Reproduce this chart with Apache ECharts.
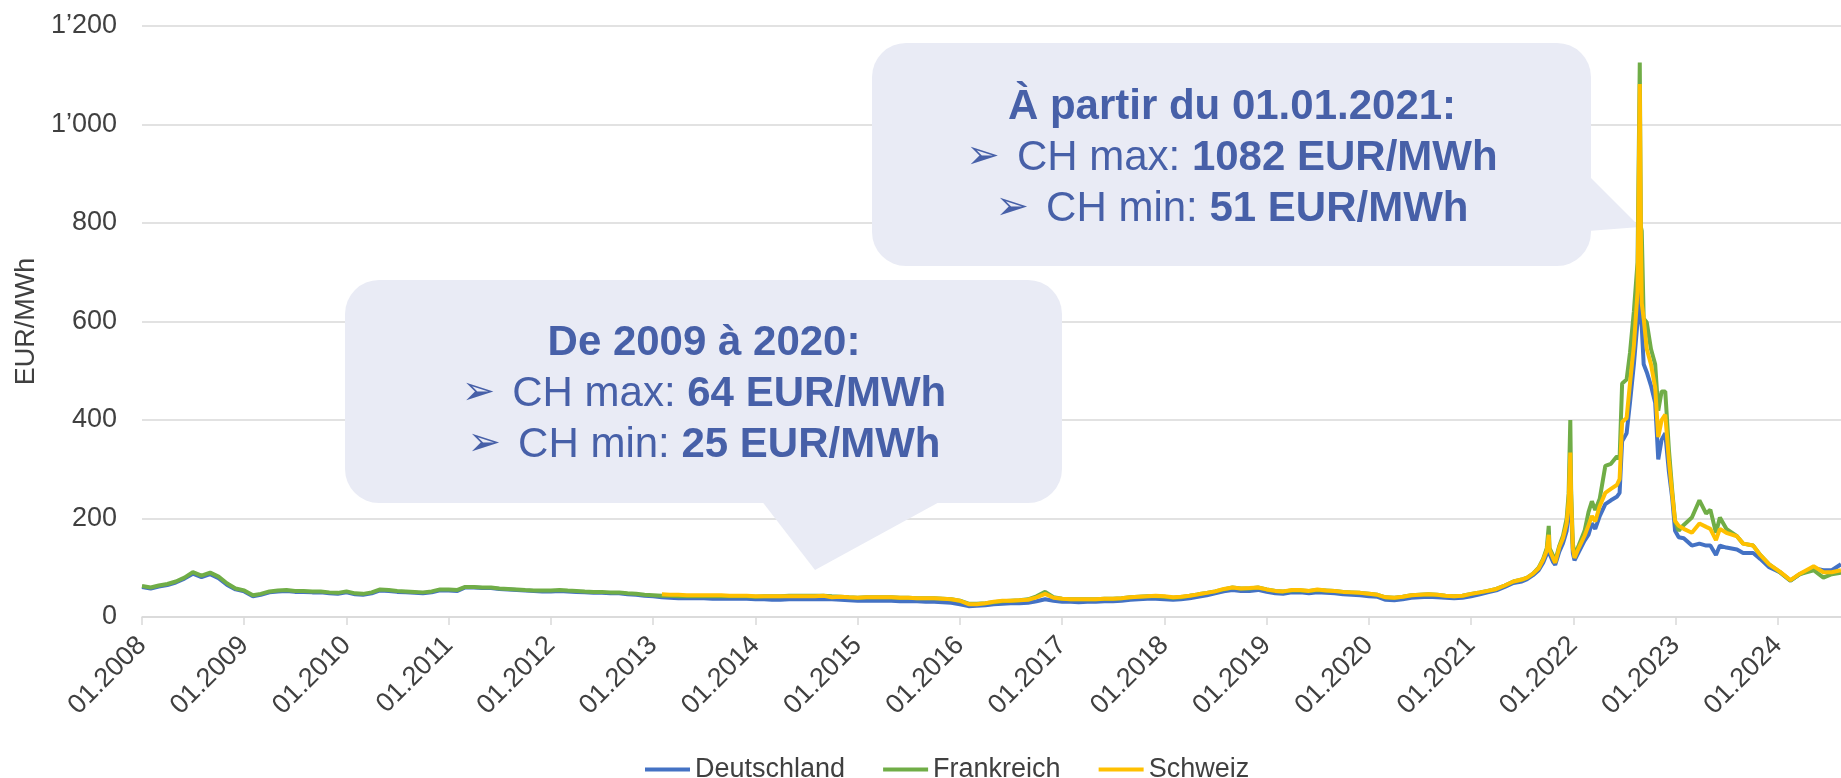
<!DOCTYPE html>
<html>
<head>
<meta charset="utf-8">
<title>Prix de l'électricité</title>
<script src="https://cdn.jsdelivr.net/npm/echarts@6.0.0/dist/echarts.min.js"></script>
<style>
  html, body { margin: 0; padding: 0; background: #fff; }
  #chart { width: 1841px; height: 778px; }
</style>
</head>
<body>
<div id="chart"></div>
<script>
// monthly until mid 2021, then denser around the 2021-2023 spikes
const dates = [
  '2008-01','2008-02','2008-03','2008-04','2008-05','2008-06','2008-07','2008-08','2008-09','2008-10','2008-11','2008-12',
  '2009-01','2009-02','2009-03','2009-04','2009-05','2009-06','2009-07','2009-08','2009-09','2009-10','2009-11','2009-12',
  '2010-01','2010-02','2010-03','2010-04','2010-05','2010-06','2010-07','2010-08','2010-09','2010-10','2010-11','2010-12',
  '2011-01','2011-02','2011-03','2011-04','2011-05','2011-06','2011-07','2011-08','2011-09','2011-10','2011-11','2011-12',
  '2012-01','2012-02','2012-03','2012-04','2012-05','2012-06','2012-07','2012-08','2012-09','2012-10','2012-11','2012-12',
  '2013-01','2013-02','2013-03','2013-04','2013-05','2013-06','2013-07','2013-08','2013-09','2013-10','2013-11','2013-12',
  '2014-01','2014-02','2014-03','2014-04','2014-05','2014-06','2014-07','2014-08','2014-09','2014-10','2014-11','2014-12',
  '2015-01','2015-02','2015-03','2015-04','2015-05','2015-06','2015-07','2015-08','2015-09','2015-10','2015-11','2015-12',
  '2016-01','2016-02','2016-03','2016-04','2016-05','2016-06','2016-07','2016-08','2016-09','2016-10','2016-11','2016-12',
  '2017-01','2017-02','2017-03','2017-04','2017-05','2017-06','2017-07','2017-08','2017-09','2017-10','2017-11','2017-12',
  '2018-01','2018-02','2018-03','2018-04','2018-05','2018-06','2018-07','2018-08','2018-09','2018-10','2018-11','2018-12',
  '2019-01','2019-02','2019-03','2019-04','2019-05','2019-06','2019-07','2019-08','2019-09','2019-10','2019-11','2019-12',
  '2020-01','2020-02','2020-03','2020-04','2020-05','2020-06','2020-07','2020-08','2020-09','2020-10','2020-11','2020-12',
  '2021-01','2021-02','2021-03','2021-04','2021-05','2021-06',
  '2021-07-01','2021-07-20','2021-08-10','2021-08-30','2021-09-15','2021-09-28','2021-10-05','2021-10-08','2021-10-20','2021-10-28',
  '2021-11-12','2021-11-25','2021-12-08','2021-12-15','2021-12-21','2021-12-24','2021-12-30',
  '2022-01-05','2022-01-20','2022-02-10','2022-02-24','2022-03-08','2022-03-20','2022-04-05','2022-04-25','2022-05-15','2022-06-05',
  '2022-06-15','2022-06-24','2022-07-10','2022-07-22','2022-08-05','2022-08-18','2022-08-26','2022-08-30','2022-09-02','2022-09-09',
  '2022-09-20','2022-10-05','2022-10-20','2022-10-31','2022-11-12','2022-11-25','2022-12-08','2022-12-20','2022-12-30',
  '2023-01-12','2023-01-30','2023-02-28','2023-03-27','2023-04-20','2023-05-05','2023-05-25','2023-06-08','2023-07-01','2023-08-08',
  '2023-08-30','2023-10-05','2023-10-30','2023-12-01',
  '2024-01-08','2024-02-15','2024-03-20','2024-05-08','2024-06-12','2024-07-12','2024-08-14'
];

const deutschland = [
  61,58,62,65,70,78,88,81,87,79,65,56,
  52,42,45,50,52,53,51,51,50,50,48,47,
  50,46,45,48,54,53,51,50,49,48,50,54,
  54,53,60,60,59,59,57,56,55,54,53,52,
  52,53,52,51,50,49,49,48,48,46,45,43,
  42,40,39,38,38,38,38,37,37,37,37,37,
  36,36,35,35,36,36,36,36,36,36,35,34,
  33,33,33,33,33,32,32,32,31,31,30,29,
  26,22,23,24,26,27,28,28,29,32,36,33,
  31,31,30,31,31,32,32,33,35,36,37,37,
  36,35,36,38,41,44,48,52,55,53,53,55,
  51,48,47,50,50,48,50,49,48,46,45,44,
  42,41,35,34,36,39,40,41,40,39,38,39,
  42,46,50,54,61,69,
  72,77,85,95,110,128,150,128,112,106,
  133,150,175,215,290,215,130,
  115,132,155,167,190,179,205,229,237,244,
  252,357,373,435,513,600,985,606,590,513,
  497,470,435,320,360,373,295,240,175,
  162,160,145,149,145,145,126,145,141,137,
  130,130,118,101,
  91,74,87,99,95,95,107
];

const frankreich = [
  63,60,64,67,72,80,91,84,90,82,68,58,
  54,44,47,52,54,55,53,53,52,52,50,49,
  52,48,47,50,56,55,53,52,51,50,52,56,
  56,55,61,61,60,60,58,57,56,55,54,54,
  54,55,54,53,52,51,51,50,50,48,47,45,
  44,43,43,42,42,42,42,42,42,42,42,42,
  41,42,42,42,43,43,43,43,43,42,41,40,
  39,40,40,40,40,39,39,38,38,38,37,36,
  33,27,27,28,30,32,33,34,36,42,51,40,
  37,36,36,36,36,37,37,38,40,41,42,42,
  41,39,40,43,46,49,52,56,60,58,58,60,
  56,53,52,54,54,53,55,54,53,51,50,49,
  47,45,40,39,41,44,45,46,45,43,42,43,
  47,50,53,57,64,72,
  76,80,88,100,118,140,185,140,125,114,
  145,165,200,250,400,260,150,
  125,145,175,213,235,217,240,307,311,326,
  322,474,482,536,621,720,1126,792,784,606,
  598,544,513,419,458,458,340,256,195,
  175,187,202,237,210,218,171,202,179,164,
  149,145,126,107,
  91,74,87,95,80,87,90
];

const schweiz = [
  null,null,null,null,null,null,null,null,null,null,null,null,
  null,null,null,null,null,null,null,null,null,null,null,null,
  null,null,null,null,null,null,null,null,null,null,null,null,
  null,null,null,null,null,null,null,null,null,null,null,null,
  null,null,null,null,null,null,null,null,null,null,null,null,
  null,46,45,45,44,44,44,44,44,43,43,43,
  42,42,42,42,42,42,42,42,43,40,41,40,
  39,40,40,40,40,39,39,38,38,38,37,36,
  33,26,26,28,31,33,33,34,35,40,47,39,
  37,36,36,36,36,37,37,38,40,41,42,43,
  42,40,41,43,46,49,52,57,60,58,59,60,
  56,53,52,55,55,53,56,54,53,51,50,49,
  47,45,40,39,41,44,45,46,45,43,42,43,
  47,50,53,57,64,72,
  76,80,88,99,116,135,167,136,120,110,
  142,160,190,235,334,240,140,
  120,140,165,186,205,194,225,252,260,268,
  280,396,404,474,551,660,1082,777,637,606,
  544,513,466,365,400,411,318,248,195,
  185,179,171,190,183,179,156,179,171,164,
  149,145,126,107,
  92,75,88,103,91,91,95
];

const yTicks = [0, 200, 400, 600, 800, 1000, 1200];
const seriesNames = ['Deutschland', 'Frankreich', 'Schweiz'];
const seriesColors = ['#4472C4', '#70AD47', '#FFC000'];

const callouts = [
  { title: 'De 2009 à 2020:', max: '64 EUR/MWh', min: '25 EUR/MWh' },
  { title: 'À partir du 01.01.2021:', max: '1082 EUR/MWh', min: '51 EUR/MWh' }
];

// date string -> fractional year
function toYear(s) {
  const p = s.split('-').map(Number);
  const start = Date.UTC(p[0], 0, 1);
  const end = Date.UTC(p[0] + 1, 0, 1);
  const t = Date.UTC(p[0], p[1] - 1, p[2] || 1);
  return p[0] + (t - start) / (end - start);
}

function pairs(values) {
  const out = [];
  values.forEach((v, i) => {
    if (v !== null) out.push([toYear(dates[i]), v]);
  });
  return out;
}

function fmtThousands(v) {
  if (v >= 1000) return Math.floor(v / 1000) + '\u2019' + String(v % 1000).padStart(3, '0');
  return String(v);
}

const FONT = "'Liberation Sans', Arial, sans-serif";
const TEXT_COLOR = '#404040';
const GRID_COLOR = '#d9d9d9';
const BUBBLE = '#E9EBF5';
const BUBBLE_TEXT = '#4760A8';

const chart = echarts.init(document.getElementById('chart'), null, { renderer: 'canvas' });

function calloutText(c) {
  return '{h|' + c.title + '}\n{a|\u27A2}{r|CH max: }{b|' + c.max + '}\n{a|\u27A2}{r|CH min: }{b|' + c.min + '}';
}

const rich = {
  h: { fontSize: 42, fontWeight: 'bold', fontFamily: FONT, fill: BUBBLE_TEXT, lineHeight: 51 },
  a: { fontSize: 40, fontFamily: "'DejaVu Sans', sans-serif", fill: BUBBLE_TEXT, lineHeight: 51, padding: [0, 17, 0, 0] },
  r: { fontSize: 42, fontFamily: FONT, fill: BUBBLE_TEXT, lineHeight: 51 },
  b: { fontSize: 42, fontWeight: 'bold', fontFamily: FONT, fill: BUBBLE_TEXT, lineHeight: 51 }
};

const options = {
  animation: false,
  backgroundColor: '#fff',
  grid: { left: 142, right: 0, top: 26, bottom: 161, containLabel: false, outerBoundsMode: 'none' },
  legend: {
    data: seriesNames,
    left: 640,
    top: 751,
    icon: 'rect',
    itemWidth: 45,
    itemHeight: 4,
    itemGap: 38,
    textStyle: { fontSize: 27, color: TEXT_COLOR, fontFamily: FONT }
  },
  xAxis: {
    type: 'value',
    min: 2008,
    max: toYear(dates[dates.length - 1]),
    interval: 1,
    axisLine: { show: true, lineStyle: { color: GRID_COLOR, width: 1.5 } },
    axisTick: { show: true, length: 8, lineStyle: { color: GRID_COLOR, width: 1.5 } },
    axisLabel: {
      rotate: 45,
      margin: 24,
      fontSize: 27,
      color: TEXT_COLOR,
      fontFamily: FONT,
      showMaxLabel: false,
      formatter: (v) => (Number.isInteger(v) ? '01.' + v : '')
    },
    splitLine: { show: false }
  },
  yAxis: {
    type: 'value',
    min: yTicks[0],
    max: yTicks[yTicks.length - 1],
    interval: 200,
    name: 'EUR/MWh',
    nameLocation: 'middle',
    nameRotate: 90,
    nameGap: 100,
    nameTextStyle: { fontSize: 27, color: TEXT_COLOR, fontFamily: FONT },
    axisLine: { show: false },
    axisTick: { show: false },
    axisLabel: { fontSize: 27, color: TEXT_COLOR, fontFamily: FONT, margin: 25, formatter: fmtThousands },
    splitLine: { lineStyle: { color: GRID_COLOR, width: 1.5 } }
  },
  series: [deutschland, frankreich, schweiz].map((vals, i) => ({
    name: seriesNames[i],
    type: 'line',
    data: pairs(vals),
    symbol: 'none',
    showSymbol: false,
    connectNulls: false,
    lineStyle: { width: 4, color: seriesColors[i] },
    itemStyle: { color: seriesColors[i] },
    z: 3
  })),
  graphic: [
    // lower callout
    { type: 'rect', z: 1, silent: true, shape: { x: 345, y: 280, width: 717, height: 223, r: 34 }, style: { fill: BUBBLE } },
    { type: 'polygon', z: 1, silent: true, shape: { points: [[761, 500], [815, 570], [943, 500]] }, style: { fill: BUBBLE } },
    { type: 'text', z: 2, silent: true, x: 704, y: 394,
      style: { text: calloutText(callouts[0]), rich: rich, align: 'center', verticalAlign: 'middle', fontSize: 42, fontFamily: FONT, fill: BUBBLE_TEXT, lineHeight: 51 } },
    // upper callout
    { type: 'rect', z: 1, silent: true, shape: { x: 872, y: 43, width: 719, height: 223, r: 34 }, style: { fill: BUBBLE } },
    { type: 'polygon', z: 1, silent: true, shape: { points: [[1588, 175], [1640, 227], [1588, 231]] }, style: { fill: BUBBLE } },
    { type: 'text', z: 2, silent: true, x: 1232, y: 158,
      style: { text: calloutText(callouts[1]), rich: rich, align: 'center', verticalAlign: 'middle', fontSize: 42, fontFamily: FONT, fill: BUBBLE_TEXT, lineHeight: 51 } }
  ]
};

chart.setOption(options);
</script>
</body>
</html>
